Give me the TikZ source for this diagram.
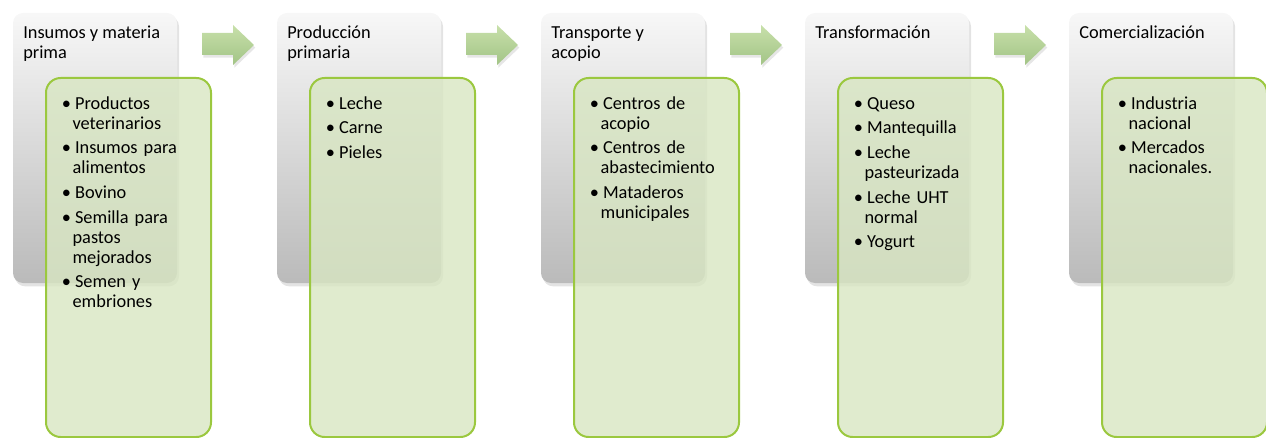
\documentclass[tikz,border=0pt]{standalone}
\usepackage{fontspec}
\setmainfont{Carlito}
\usetikzlibrary{shadows}

\definecolor{bordeverde}{HTML}{9BC83F}
\definecolor{rellenoverde}{HTML}{D8E6C2}
\definecolor{flechaclara}{HTML}{C8E0AA}
\definecolor{flechaoscura}{HTML}{A2C486}

\newenvironment{vinetas}{%
  \begin{list}{\textbullet}{%
    \setlength{\leftmargin}{7pt}\setlength{\labelwidth}{5pt}%
    \setlength{\labelsep}{3pt}\setlength{\itemsep}{3.5pt}%
    \setlength{\parsep}{0pt}\setlength{\topsep}{0pt}\setlength{\partopsep}{0pt}}%
    \raggedright}%
  {\end{list}}

\begin{document}
\begin{tikzpicture}[x=0.75pt, y=-0.75pt,
  etapa/.style={rounded corners=7.5pt, minimum width=123pt, minimum height=202.5pt,
    top color=black!3, middle color=black!7, bottom color=black!27,
    drop shadow={shadow xshift=1.5pt, shadow yshift=-2.5pt, opacity=0.22}},
  detalle/.style={draw=bordeverde, line width=1.5pt, rounded corners=11pt,
    fill=rellenoverde, fill opacity=0.8, minimum width=123.75pt, minimum height=269.25pt},
  titulo/.style={anchor=north west, inner sep=0pt, align=left,
    font=\fontsize{13.75}{15}\selectfont},
  lista/.style={anchor=north west, inner sep=0pt, text width=130pt,
    font=\fontsize{13.75}{15}\selectfont},
  flecha/.style={top color=flechaclara, bottom color=flechaoscura,
    drop shadow={shadow xshift=1pt, shadow yshift=-2pt, opacity=0.2}}]
\useasboundingbox (0,0) rectangle (1266,438);

% stage boxes
\node[etapa] (g1) at (95,148) {};
\node[etapa] (g2) at (359,148) {};
\node[etapa] (g3) at (623,148) {};
\node[etapa] (g4) at (887,148) {};
\node[etapa] (g5) at (1151,148) {};

\node[titulo] (t1) at (23,26) {Insumos y materia\\prima};
\node[titulo] (t2) at (287,26) {Producción\\primaria};
\node[titulo] (t3) at (551,26) {Transporte y\\acopio};
\node[titulo] (t4) at (815,26) {Transformación};
\node[titulo] (t5) at (1079,26) {Comercialización};

% green detail boxes, drawn over the stage boxes
\node[detalle] (v1) at (128.5,257.5) {};
\node[detalle] (v2) at (392.5,257.5) {};
\node[detalle] (v3) at (656.5,257.5) {};
\node[detalle] (v4) at (920.5,257.5) {};
\node[detalle] (v5) at (1184.5,257.5) {};

\node[lista] (l1) at (63,89) {\begin{vinetas}
  \item Productos\\veterinarios
  \item Insumos para\\alimentos
  \item Bovino
  \item Semilla para\\pastos\\mejorados
  \item Semen y\\embriones
\end{vinetas}};
\node[lista] (l2) at (327,89) {\begin{vinetas}
  \item Leche
  \item Carne
  \item Pieles
\end{vinetas}};
\node[lista] (l3) at (591,89) {\begin{vinetas}
  \item Centros de\\acopio
  \item Centros de\\abastecimiento
  \item Mataderos\\municipales
\end{vinetas}};
\node[lista] (l4) at (855,89) {\begin{vinetas}
  \item Queso
  \item Mantequilla
  \item Leche\\pasteurizada
  \item Leche UHT\\normal
  \item Yogurt
\end{vinetas}};
\node[lista] (l5) at (1119,89) {\begin{vinetas}
  \item Industria\\nacional
  \item Mercados\\nacionales.
\end{vinetas}};

% arrows between the stages
\foreach \i in {0,...,3}
  \path[flecha, shift={(\i*264,0)}] (202,33) -- (233,33) -- (233,25) -- (254,45)
    -- (233,65) -- (233,55) -- (202,55) -- cycle;
\end{tikzpicture}
\end{document}
